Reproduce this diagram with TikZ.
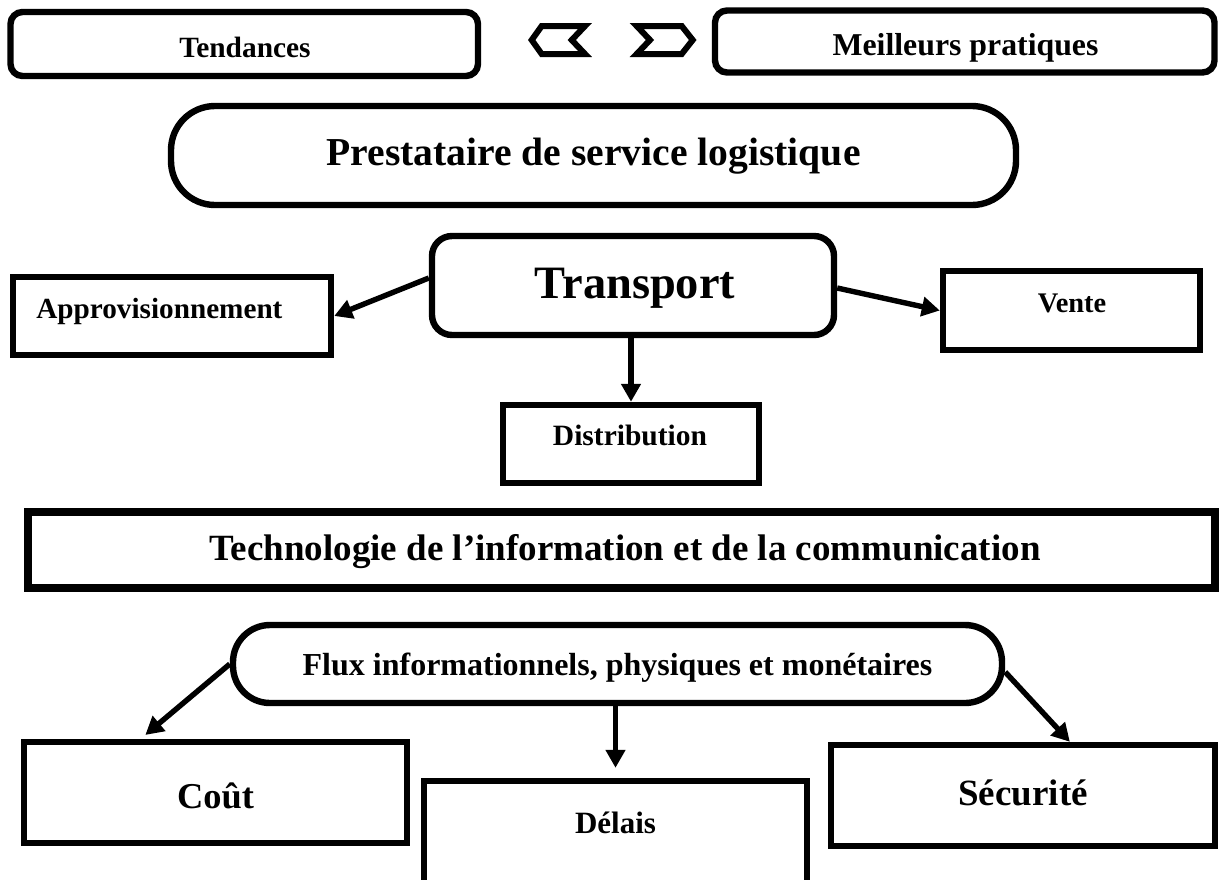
\documentclass[tikz,border=0pt]{standalone}
\usepackage{fontspec}
\setmainfont{Liberation Serif}
\usetikzlibrary{arrows.meta,calc}

\begin{document}
\begin{tikzpicture}[x=0.5pt,y=-0.5pt,
  box/.style={draw, line width=3.2pt, inner sep=0pt},
  lbl/.style={inner sep=0pt, anchor=base, font=\fontsize{#1}{#1}\selectfont\bfseries},
  link/.style={line width=2.7pt, -{Triangle[length=9pt,width=9.5pt]}},
  chev/.style={line width=3pt, line join=miter}
]
\useasboundingbox (0,0) rectangle (1219,879);
\clip (0,0) rectangle (1219,879);

% top row
\node[box, rounded corners=6pt, minimum width=233.75pt, minimum height=32pt] (tend) at (244.25,44) {};
\node[lbl=14.7pt] (tendT) at (245,57) {Tendances};
\node[box, rounded corners=6pt, minimum width=249.75pt, minimum height=31pt] (best) at (964.75,41.5) {};
\node[lbl=15.9pt] (bestT) at (965.5,55.5) {Meilleurs pratiques};

% chevrons between the two top boxes
\draw[chev] (541.7,26) -- (585,26) -- (571.7,40) -- (585,54) -- (541.7,54) -- (531.7,40) -- cycle;
\draw[chev] (636.7,26) -- (681.7,26) -- (692.7,40) -- (681.7,54) -- (636.7,54) -- (650,40) -- cycle;

% logistics provider
\node[box, rounded corners=22pt, minimum width=422.5pt, minimum height=49.5pt] (lsp) at (593.5,155.5) {};
\node[lbl=19.8pt] (lspT) at (593.5,165) {Prestataire de service logistique};

% transport and its branches
\node[box, rounded corners=10pt, minimum width=201pt, minimum height=49.5pt] (transport) at (633,285.5) {};
\node[lbl=23.2pt] (transportT) at (635,298) {Transport};
\node[box, minimum width=159pt, minimum height=39pt] (appro) at (172,316) {};
\node[lbl=14.6pt, anchor=base west] (approT) at (36,318) {Approvisionnement};
\node[box, minimum width=128.5pt, minimum height=39.5pt] (vente) at (1071.5,310.5) {};
\node[lbl=14.2pt] (venteT) at (1072,312) {Vente};
\node[box, minimum width=128pt, minimum height=39pt] (distrib) at (631,444) {};
\node[lbl=14.75pt] (distribT) at (630,445) {Distribution};

\draw[link] ($(transport.west)+(0,-7.5)$) -- (appro.east);
\draw[link] ($(transport.east)+(0,2.5)$) -- (vente.west);
\draw[link] (distrib.north |- transport.south) -- (distrib.north);

% ICT band
\node[box, line width=3.8pt, minimum width=593.5pt, minimum height=38pt] (tic) at (621.5,550) {};
\node[lbl=18.5pt] (ticT) at (625,560) {Technologie de l’information et de la communication};

% flows and their outcomes
\node[box, rounded corners=18.5pt, minimum width=384.5pt, minimum height=39pt] (flux) at (617.5,664) {};
\node[lbl=16pt] (fluxT) at (617.5,675) {Flux informationnels, physiques et monétaires};
\node[box, minimum width=191.5pt, minimum height=50.5pt] (cout) at (215.5,792.5) {};
\node[lbl=18.2pt] (coutT) at (215.5,808) {Coût};
\node[box, minimum width=191.5pt, minimum height=62pt] (delais) at (615.5,843) {};
\node[lbl=15.5pt] (delaisT) at (615.5,833) {Délais};
\node[box, minimum width=192pt, minimum height=50.5pt] (secu) at (1023,795.5) {};
\node[lbl=18.5pt] (secuT) at (1023,805) {Sécurité};

\draw[link, shorten >=3pt] (flux.west) -- ($(cout.north west)!0.308!(cout.north east)$);
\draw[link, shorten >=5pt] (delais.north |- flux.south) -- (delais.north);
\draw[link] ($(flux.east)+(0,8)$) -- ($(secu.north west)!0.62!(secu.north east)$);
\end{tikzpicture}
\end{document}
